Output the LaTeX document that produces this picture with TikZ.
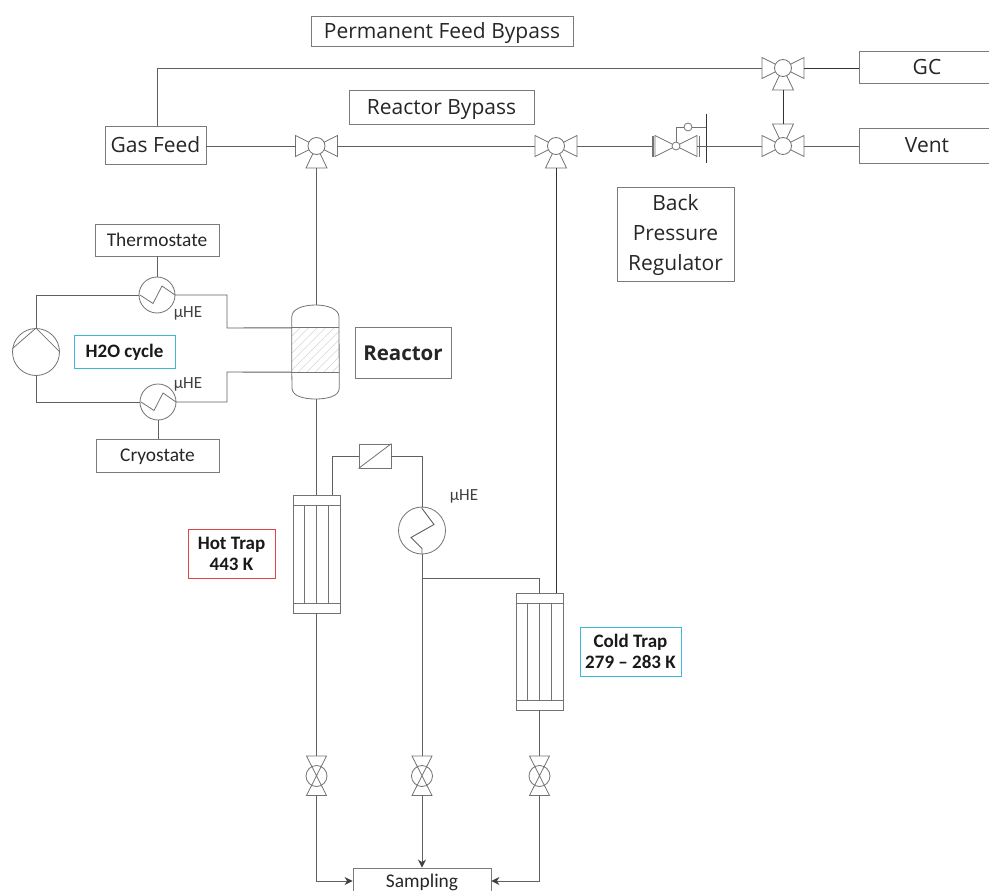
\documentclass[tikz,border=0pt]{standalone}
\usepackage{fontspec}
\setmainfont{Carlito}
\newfontfamily\wideface{Open Sans}
\usepackage{xcolor}
\usetikzlibrary{arrows.meta, patterns.meta}
\definecolor{pipegray}{HTML}{606060}
\definecolor{boxgray}{HTML}{7A7A7A}
\definecolor{coolblue}{HTML}{3FB8D8}
\definecolor{hotred}{HTML}{E0454A}
\tikzset{
  pipe/.style={draw=pipegray, line width=0.9pt},
  darkpipe/.style={draw=black!80, line width=0.9pt},
  symbolline/.style={draw=black!55, line width=0.8pt},
  arrowline/.style={pipe, -{Stealth[length=8pt, width=8pt, color=black!75]}},
  bigbox/.style={rectangle, draw=boxgray, line width=0.9pt, font=\wideface\fontsize{21}{30}\selectfont, text=black!85, align=center, inner sep=0pt},
  smallbox/.style={rectangle, draw=boxgray, line width=0.9pt, font=\fontsize{19.4}{23}\selectfont, text=black!85, align=center, inner sep=0pt},
  tempbox/.style={rectangle, line width=0.9pt, font=\bfseries\fontsize{19}{21}\selectfont, text=black!90, align=center, inner sep=0pt},
  onelinebig/.style={text height=20pt, text depth=5pt},
  onelinesmall/.style={text height=17pt, text depth=5pt},
  helabel/.style={font=\fontsize{17}{18}\selectfont, text=black!75, inner sep=0pt},
  threevalve/.pic={
    \path[symbolline, fill=white] (-21,-10.5) -- (-21,10.5) -- (0,0) -- cycle;
    \path[symbolline, fill=white] (21,-10.5) -- (21,10.5) -- (0,0) -- cycle;
    \path[symbolline, fill=white] (-10.5,22) -- (10.5,22) -- (0,0) -- cycle;
    \path[symbolline, fill=white] (0,0) circle (8.5);
    \coordinate (-l) at (-21,0);
    \coordinate (-r) at (21,0);
    \coordinate (-b) at (0,22);
  },
  shutvalve/.pic={
    \path[symbolline, fill=white] (0,0) circle (10.5);
    \path[symbolline] (-10,-20) -- (10,-20) -- (-10,19.5) -- (10,19.5) -- cycle;
    \coordinate (-t) at (0,-20);
    \coordinate (-b) at (0,19.5);
  },
  regulator/.pic={
    \path[symbolline] (-21,-10.5) -- (-21,10.5) -- (0,0) -- cycle;
    \path[symbolline] (21,-10.5) -- (21,10.5) -- (0,0) -- cycle;
    \path[draw=black!55, line width=2.2pt] (-23,-10.5) -- (-23,10.5);
    \path[symbolline] (23,-10.5) -- (23,10.5);
    \path[symbolline] (0,0) -- (0,-19) -- (30,-19);
    \path[symbolline, fill=white] (12,-19) circle (4);
    \path[symbolline, fill=white] (0,0) circle (4);
    \path[darkpipe] (30,-32) -- (30,17);
    \coordinate (-l) at (-24,0);
    \coordinate (-r) at (21,0);
  },
  heatflat/.pic={
    \path[symbolline, fill=white] (0,0) circle (18);
    \path[symbolline] (-17,0) -- (-4,8.5) -- (5,-9) -- (18,0);
    \coordinate (-n) at (0,-18);
    \coordinate (-s) at (0,18);
    \coordinate (-w) at (-18,0);
    \coordinate (-e) at (18,0);
  },
  heatupright/.pic={
    \path[symbolline, fill=white] (0,0) circle (23.5);
    \path[pipe] (0,-23.5) -- (0,-22) -- (12,-6) -- (-11,7) -- (0,18) -- (0,23.5);
    \coordinate (-n) at (0,-23.5);
    \coordinate (-s) at (0,23.5);
  },
  tubetrap/.pic={
    \path[symbolline, fill=white] (-23.5,0) rectangle (23.5,#1);
    \path[symbolline] (-23.5,10) -- (23.5,10);
    \path[symbolline] (-23.5,#1-10) -- (23.5,#1-10);
    \foreach \tubex in {-12,0,12}
      \path[symbolline] (\tubex,10) -- (\tubex,#1-10);
    \coordinate (-t) at (0,0);
    \coordinate (-b) at (0,#1);
  },
}
\begin{document}
\begin{tikzpicture}[x=1pt, y=-1pt]
\useasboundingbox (0,0) rectangle (989,891);
\clip (0,0) rectangle (989,891);

\node[bigbox, onelinebig, minimum width=262pt, minimum height=30pt] (permbypass) at (442,31) {Permanent Feed Bypass};
\node[bigbox, onelinebig, minimum width=185pt, minimum height=34pt] (reacbypass) at (441.5,107) {Reactor Bypass};
\node[bigbox, onelinebig, minimum width=101pt, minimum height=38pt] (gasfeed) at (155.5,145) {Gas Feed};
\node[bigbox, onelinebig, minimum width=136pt, minimum height=32pt] (gc) at (927,67) {GC};
\node[bigbox, onelinebig, minimum width=136pt, minimum height=35pt] (vent) at (927,145.5) {Vent};
\node[bigbox, minimum width=117pt, minimum height=94pt, text depth=2pt] (bprlabel) at (675.5,234) {Back\\Pressure\\Regulator};
\node[bigbox, onelinebig, font=\wideface\bfseries\fontsize{20.5}{24}\selectfont, minimum width=96pt, minimum height=51pt] (reaclabel) at (403,352.5) {Reactor};
\node[smallbox, onelinesmall, minimum width=124pt, minimum height=32pt] (thermo) at (157,240) {Thermostate};
\node[smallbox, onelinesmall, minimum width=123pt, minimum height=33pt] (cryo) at (157.5,455.5) {Cryostate};
\node[smallbox, onelinesmall, minimum width=138pt, minimum height=26pt] (sampling) at (422,881) {Sampling};
\node[tempbox, onelinesmall, draw=coolblue, minimum width=101pt, minimum height=33pt] (cycle) at (124.5,351.5) {H2O cycle};
\node[tempbox, draw=hotred, minimum width=87pt, minimum height=49pt] (hotlabel) at (231.5,553.5) {Hot Trap\\443 K};
\node[tempbox, draw=coolblue, minimum width=101pt, minimum height=49pt] (coldlabel) at (630.5,651.5) {Cold Trap\\279 -- 283 K};
\node[helabel] (heupper) at (188,313) {µHE};
\node[helabel] (helower) at (188,384) {µHE};
\node[helabel] (hemiddle) at (464,496) {µHE};

\coordinate (gascorner) at (157,68);
\coordinate (hotbranch) at (332,495);
\coordinate (coldbranch) at (539.5,593);
\coordinate (coldtee) at (422,578);
\coordinate (coolin) at (556,593);
\coordinate (reactortop) at (316.5,305);
\coordinate (reactorbot) at (316.5,399);

\pic (vfeed) at (316.5,146) {threevalve};
\pic (vreactor) at (556,146) {threevalve};
\pic (vgc) at (783,68) {threevalve};
\pic[yscale=-1] (vvent) at (783,146) {threevalve};
\pic (bpr) at (676,146) {regulator};
\pic (heup) at (157,295) {heatflat};
\pic (helow) at (158,402) {heatflat};
\pic (hemid) at (422,530.5) {heatupright};
\pic (trapone) at (316.5,495) {tubetrap=118};
\pic (traptwo) at (539.5,593) {tubetrap=117};
\pic (sone) at (316.5,776) {shutvalve};
\pic (stwo) at (422,776) {shutvalve};
\pic (sthree) at (539.5,776) {shutvalve};

% reactor vessel
\node[minimum width=47pt, minimum height=44pt, inner sep=0pt] (reactor) at (315.5,350) {};
\path[pattern={Lines[angle=45, distance=6pt, line width=0.4pt]}, pattern color=black!22] (reactor.north west) rectangle (reactor.south east);
\draw[symbolline] (reactor.north west) -- ++(0,-11) .. controls ++(0,-8) and ++(-12,0) .. (315.5,305) .. controls ++(12,0) and ++(0,-8) .. ++(23.5,12) -- (reactor.south east) -- ++(0,16) .. controls ++(0,8) and ++(12,0) .. (315.5,399) .. controls ++(-12,0) and ++(0,8) .. ++(-23.5,-11) -- (reactor.south west) -- cycle;
\draw[symbolline] (reactor.north west) -- (reactor.north east);
\draw[symbolline] (reactor.south west) -- (reactor.south east);

% water loop
\node[draw=black!55, line width=0.8pt, circle, minimum size=47pt, inner sep=0pt] (pump) at (36,352) {};
\draw[symbolline] (pump.172) -- (pump.north) -- (pump.0);
\draw[pipe] (reactor.north west) -- (227,328) -- (227,295) -- (heup-e);
\draw[pipe] (heup-w) -- (36,295) -- (pump.north);
\draw[pipe] (pump.south) -- (36,402) -- (helow-w);
\draw[pipe] (helow-e) -- (227,402) -- (227,372) -- (reactor.south west);
\draw[pipe] (thermo.south) -- (heup-n);
\draw[pipe] (helow-s |- cryo.north) -- (helow-s);

% gas lines
\draw[pipe] (gasfeed.east |- vfeed-l) -- (vfeed-l);
\draw[pipe] (gascorner |- gasfeed.north) -- (gascorner) -- (vgc-l);
\draw[pipe] (vfeed-r) -- (vreactor-l);
\draw[pipe] (vreactor-r) -- (bpr-l);
\draw[pipe] (bpr-r) -- (vvent-l);
\draw[pipe] (vvent-r) -- (vent.west |- vvent-r);
\draw[darkpipe] (vgc-r) -- (gc.west |- vgc-r);
\draw[darkpipe] (vgc-b) -- (vvent-b);
\draw[pipe] (vfeed-b) -- (reactortop);
\draw[darkpipe] (vreactor-b) -- (coolin);
\draw[pipe] (reactorbot) -- (trapone-t);

% trap lines
\node[draw=black!55, line width=0.8pt, fill=white, minimum width=32pt, minimum height=24pt, inner sep=0pt] (filterbox) at (375,456) {};
\draw[symbolline] (filterbox.south west) -- (filterbox.north east);
\draw[pipe] (hotbranch) -- (332,456) -- (filterbox.west);
\draw[pipe] (filterbox.east) -- (422,456) -- (hemid-n);
\draw[pipe] (hemid-s) -- (stwo-t);
\draw[pipe] (coldtee) -- (539.5,578) -- (coldbranch);
\draw[pipe] (trapone-b) -- (sone-t);
\draw[pipe] (traptwo-b) -- (sthree-t);

% sampling lines
\draw[arrowline] (sone-b) -- (sone-b |- sampling.west) -- (sampling.west);
\draw[arrowline] (stwo-b) -- (sampling.north);
\draw[arrowline] (sthree-b) -- (sthree-b |- sampling.east) -- (sampling.east);
\end{tikzpicture}
\end{document}
